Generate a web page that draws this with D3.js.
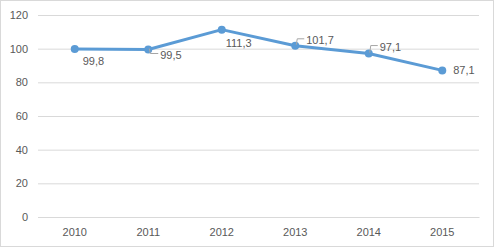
<!DOCTYPE html>
<html><head><meta charset="utf-8">
<script src="https://cdn.jsdelivr.net/npm/d3@7"></script>
<style>body{margin:0;background:#fff}svg{display:block}</style>
</head><body>
<script>
const categories = ["2010","2011","2012","2013","2014","2015"];
const values = [99.8, 99.5, 111.3, 101.7, 97.1, 87.1];
const valueLabels = ["99,8","99,5","111,3","101,7","97,1","87,1"];
const yTicks = [0,20,40,60,80,100,120];

const W=496,H=249;
const svg=d3.select("body").append("svg").attr("width",W).attr("height",H);
svg.append("rect").attr("x",0.5).attr("y",0.5).attr("width",W-3).attr("height",H-3)
  .attr("fill","#fff").attr("stroke","#d9d9d9");

const x=d3.scaleBand().domain(categories).range([38,479]);
const y=d3.scaleLinear().domain([0,120]).range([217,15]);
const font="'Liberation Sans', Arial, sans-serif";

const yAxis=svg.append("g").attr("transform","translate(38,0)")
  .call(d3.axisLeft(y).tickValues(yTicks).tickSize(-441).tickPadding(10));
yAxis.select(".domain").remove();
yAxis.selectAll(".tick line").attr("stroke","#d9d9d9");
yAxis.selectAll(".tick text").attr("fill","#595959").style("font-family",font).style("font-size","11px");

const xAxis=svg.append("g").attr("transform","translate(0,217)")
  .call(d3.axisBottom(x).tickSize(0).tickPadding(11));
xAxis.select(".domain").attr("stroke","#d9d9d9");
xAxis.selectAll(".tick text").attr("fill","#595959").style("font-family",font).style("font-size","11px");

const cx=(d,i)=>x(categories[i])+x.bandwidth()/2;
const line=d3.line().x((d,i)=>cx(d,i)).y(d=>y(d));
svg.append("path").datum(values).attr("d",line).attr("fill","none")
  .attr("stroke","#5B9BD5").attr("stroke-width",3).attr("stroke-linejoin","round");
svg.selectAll("circle.pt").data(values).join("circle").attr("class","pt")
  .attr("cx",cx).attr("cy",d=>y(d)).attr("r",4).attr("fill","#5B9BD5");

// label offsets (dx, dy) relative to point
const off=[[8,16],[12,9],[4,17],[11,-2],[11,-3],[11,4]];
const leader=[false,true,false,true,true,false];
values.forEach((v,i)=>{
  const px=cx(v,i),py=y(v);
  if(leader[i]){
    const lx=px+off[i][0]-2, ly=py+off[i][1]-5;
    svg.append("path").attr("d",`M${px+1},${py-1}L${px+2},${ly}L${lx},${ly}`)
      .attr("fill","none").attr("stroke","#a6a6a6").attr("stroke-width",1);
  }
  svg.append("text").attr("x",px+off[i][0]).attr("y",py+off[i][1]).text(valueLabels[i])
    .attr("fill","#595959").style("font-family",font).style("font-size","11px");
});
</script>
</body></html>
